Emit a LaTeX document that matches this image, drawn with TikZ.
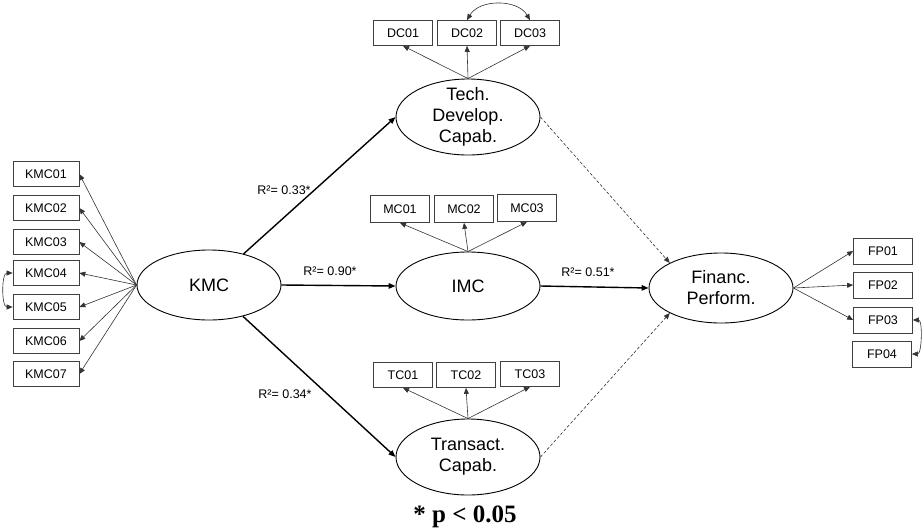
\documentclass[tikz,border=0pt]{standalone}
\usepackage{fontspec}
\setmainfont{Liberation Sans}
\newfontfamily\serifbold{Liberation Serif}
\usetikzlibrary{shapes.geometric,arrows.meta}
\begin{document}
\begin{tikzpicture}[x=1pt,y=-1pt,
 ind/.style={draw=black!75, line width=0.7pt, minimum width=59pt, minimum height=25pt, inner sep=0pt, font=\fontsize{12.5}{14}\selectfont},
 kind/.style={ind, minimum width=66pt},
 lat/.style={draw, ellipse, line width=0.9pt, minimum width=144pt, minimum height=70pt, inner sep=0pt},
 ltext/.style={font=\fontsize{18}{21}\selectfont, align=center},
 load/.style={-{Triangle[length=6pt,width=5pt]}, line width=0.6pt, draw=black!80},
 spath/.style={-{Triangle[length=7pt,width=5.5pt]}, line width=1.4pt},
 dpath/.style={-{Triangle[length=6pt,width=5pt]}, line width=0.6pt, draw=black!80, dash pattern=on 3pt off 2pt},
 cov/.style={{Triangle[length=6pt,width=5pt]}-{Triangle[length=6pt,width=5pt]}, line width=0.6pt, draw=black!80},
 rlab/.style={font=\fontsize{12.5}{14}\selectfont}]

\useasboundingbox (0,0) rectangle (924,531);

% latent variables
\node[lat, label={[ltext]center:KMC}] (KMC) at (209,285) {};
\node[lat, minimum height=76pt, label={[ltext]center:Tech.\\Develop.\\Capab.}] (TDC) at (468,117) {};
\node[lat, minimum height=68pt, label={[ltext]center:IMC}] (IMC) at (468,286) {};
\node[lat, minimum height=76pt, label={[ltext]center:Transact.\\Capab.}] (TC) at (468,457) {};
\node[lat, label={[ltext]center:Financ.\\Perform.}] (FP) at (721,288) {};

% KMC indicators
\node[kind] (KMC01) at (46,174) {KMC01};
\node[kind] (KMC02) at (46,208) {KMC02};
\node[kind] (KMC03) at (46,242) {KMC03};
\node[kind] (KMC04) at (46,273) {KMC04};
\node[kind] (KMC05) at (46,307) {KMC05};
\node[kind] (KMC06) at (46,341) {KMC06};
\node[kind] (KMC07) at (46,374) {KMC07};
\foreach \i in {01,02,03,04,05,06,07}
  \draw[load] (KMC.west) -- (KMC\i.east);
\draw[cov] (KMC04.west) to[out=180,in=180,looseness=0.85] (KMC05.west);

% DC indicators
\node[ind] (DC01) at (403,33) {DC01};
\node[ind] (DC02) at (467,33) {DC02};
\node[ind] (DC03) at (530,33) {DC03};
\draw[load] (TDC.north) -- (DC01.south);
\draw[load] (TDC.north) -- (DC02.south);
\draw[load] (TDC.north) -- (DC03.south);
\draw[cov] (DC02.north) to[out=60,in=120] (DC03.north);

% MC indicators
\node[ind, minimum height=27pt] (MC01) at (400,209) {MC01};
\node[ind, minimum height=27pt] (MC02) at (464,209) {MC02};
\node[ind, minimum height=27pt] (MC03) at (527,208) {MC03};
\draw[load] (IMC.north) -- (MC01.south);
\draw[load] (IMC.north) -- (MC02.south);
\draw[load] (IMC.north) -- (MC03.south);

% TC indicators
\node[ind] (TC01) at (403,375) {TC01};
\node[ind] (TC02) at (466,375) {TC02};
\node[ind] (TC03) at (530,374) {TC03};
\draw[load] (TC.north) -- (TC01.south);
\draw[load] (TC.north) -- (TC02.south);
\draw[load] (TC.north) -- (TC03.south);

% FP indicators
\node[ind, minimum height=26pt] (FP01) at (883,251) {FP01};
\node[ind, minimum height=26pt] (FP02) at (883,285) {FP02};
\node[ind, minimum height=26pt] (FP03) at (883,320) {FP03};
\node[ind, minimum height=26pt] (FP04) at (882,354) {FP04};
\draw[load] (FP.east) -- (FP01.west);
\draw[load] (FP.east) -- (FP02.west);
\draw[load] (FP.east) -- (FP03.west);
\draw[cov] (FP03.east) to[out=0,in=0,looseness=0.75] (FP04.east);

% structural paths
\draw[spath] (KMC) -- (TDC.west);
\draw[spath] (KMC.east) -- (IMC.west);
\draw[spath] (KMC) -- (TC.west);
\draw[spath] (IMC.east) -- (FP.west);
\draw[dpath] (TDC.east) -- (FP.north west);
\draw[dpath] (TC.east) -- (FP.south west);

% labels
\node[rlab] (r1) at (284,190) {R²= 0.33*};
\node[rlab] (r2) at (330,271) {R²= 0.90*};
\node[rlab] (r3) at (588,272) {R²= 0.51*};
\node[rlab] (r4) at (285,394) {R²= 0.34*};

\node[font=\serifbold\bfseries\fontsize{25}{28}\selectfont] (sig) at (465,517) {* p < 0.05};
\end{tikzpicture}
\end{document}
